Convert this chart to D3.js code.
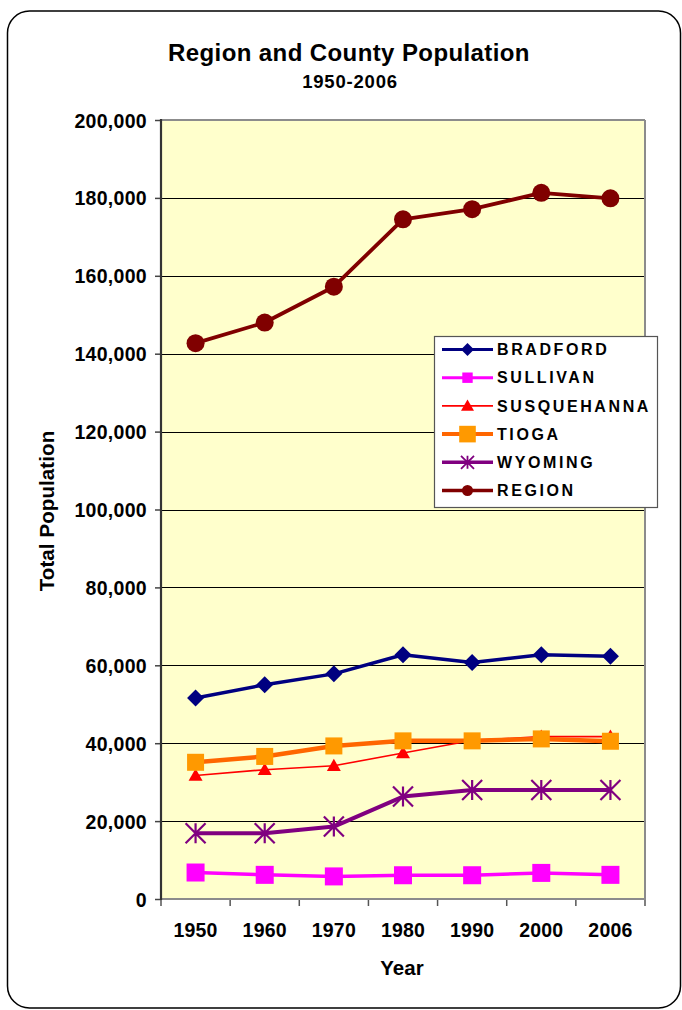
<!DOCTYPE html>
<html><head><meta charset="utf-8">
<script src="https://cdn.jsdelivr.net/npm/d3@7"></script>
<style>
body{margin:0;background:#fff}
text{font-family:"Liberation Sans",Arial,sans-serif;font-weight:bold;fill:#000}
</style>
</head><body>
<svg id="c" width="682" height="1010"></svg>
<script>
// ---- data ----
const years=["1950","1960","1970","1980","1990","2000","2006"];
const seriesNames=["BRADFORD","SULLIVAN","SUSQUEHANNA","TIOGA","WYOMING","REGION"];
const bradford=[51600,55000,57800,62700,60700,62700,62300];
const sullivan=[6800,6200,5800,6100,6100,6700,6200];
const susquehanna=[31700,33200,34200,37500,40700,41700,41700];
const tioga=[35100,36600,39300,40600,40600,41100,40500];
const wyoming=[16900,16900,18600,26300,28000,28000,28000];
const region=[142700,148000,157200,174500,177100,181300,179900];
const yTicks=[0,20000,40000,60000,80000,100000,120000,140000,160000,180000,200000];
const titleText="Region and County Population";
const subtitleText="1950-2006";
const xTitle="Year";
const yTitle="Total Population";

// ---- styles per series ----
const styles=[
  {line:"#000080",fill:"#000080",lw:3.5,marker:"diamond",ms:8.5,lms:6.5,llw:3},
  {line:"#FF00FF",fill:"#FF00FF",lw:3.5,marker:"square",ms:9,lms:5.2,llw:3},
  {line:"#FF0000",fill:"#FF0000",lw:1.6,marker:"triangle",ms:7,lms:6.5,llw:1.6},
  {line:"#FF6600",fill:"#FF9900",lw:4.5,marker:"square",ms:8.5,lms:8.3,llw:4},
  {line:"#800080",fill:"#800080",lw:4,marker:"star",ms:10,lms:6.5,llw:3.5},
  {line:"#800000",fill:"#800000",lw:3.8,marker:"circle",ms:9,lms:5.5,llw:3.5}
];
const allSeries=[bradford,sullivan,susquehanna,tioga,wyoming,region];

const svg=d3.select("#c");
const L=161,R=645,T=120,B=899;

// outer frame
svg.append("rect").attr("x",7.5).attr("y",11).attr("width",673).attr("height",997)
  .attr("rx",22).attr("ry",22).attr("fill","#fff").attr("stroke","#000").attr("stroke-width",1.5);

const x=d3.scaleBand().domain(years).range([L,R]);
const y=d3.scaleLinear().domain([0,200000]).range([B,T]);

// plot area
svg.append("rect").attr("x",L).attr("y",T).attr("width",R-L).attr("height",B-T).attr("fill","#FFFFCC");

// gridlines
svg.append("g").selectAll("line").data(yTicks.filter(d=>d>0&&d<200000)).join("line")
  .attr("x1",L).attr("x2",R).attr("y1",d=>Math.round(y(d))+0.5).attr("y2",d=>Math.round(y(d))+0.5)
  .attr("stroke","#000").attr("stroke-width",1);

// plot border top/right
svg.append("line").attr("x1",L).attr("x2",R).attr("y1",T).attr("y2",T).attr("stroke","#8c8c8c").attr("stroke-width",2);
svg.append("line").attr("x1",R).attr("x2",R).attr("y1",T).attr("y2",B).attr("stroke","#8c8c8c").attr("stroke-width",2);

// y axis
const yAxis=d3.axisLeft(y).tickValues(yTicks).tickFormat(d3.format(",")).tickSize(6).tickPadding(8);
const gy=svg.append("g").attr("transform",`translate(${L},0)`).call(yAxis);
gy.select(".domain").remove();
gy.selectAll(".tick line").attr("stroke","#444").attr("stroke-width",1.5);
gy.selectAll(".tick text").style("font-size","19.5px").style("letter-spacing","0.3px").attr("dy","0.36em");
gy.attr("font-family",null).attr("font-size",null);

// x axis (labels at band centers)
const xAxis=d3.axisBottom(x).tickSize(0).tickPadding(24);
const gx=svg.append("g").attr("transform",`translate(0,${B})`).call(xAxis);
gx.select(".domain").remove();
gx.selectAll(".tick text").style("font-size","19.5px").style("letter-spacing","0.2px");
gx.attr("font-family",null).attr("font-size",null);
// boundary ticks
const bounds=years.map(d=>x(d)).concat([x.range()[1]]);
svg.append("g").selectAll("line").data(bounds).join("line")
  .attr("x1",d=>d).attr("x2",d=>d).attr("y1",B).attr("y2",B+7)
  .attr("stroke","#555").attr("stroke-width",1.5);

// axis lines
svg.append("line").attr("x1",L).attr("x2",R+1).attr("y1",B).attr("y2",B).attr("stroke","#8c8c8c").attr("stroke-width",2);
svg.append("line").attr("x1",L).attr("x2",L).attr("y1",T-1).attr("y2",B+1).attr("stroke","#333").attr("stroke-width",2.2);

// marker drawer
function drawMarker(g,type,cx,cy,s,fill){
  if(type==="diamond"){
    g.append("path").attr("d",`M${cx},${cy-s}L${cx+s},${cy}L${cx},${cy+s}L${cx-s},${cy}Z`).attr("fill",fill);
  }else if(type==="square"){
    g.append("rect").attr("x",cx-s).attr("y",cy-s).attr("width",2*s).attr("height",2*s).attr("fill",fill);
  }else if(type==="triangle"){
    g.append("path").attr("d",`M${cx},${cy-s}L${cx+s},${cy+s*0.75}L${cx-s},${cy+s*0.75}Z`).attr("fill",fill);
  }else if(type==="circle"){
    g.append("circle").attr("cx",cx).attr("cy",cy).attr("r",s).attr("fill",fill);
  }else if(type==="star"){
    const d=`M${cx-s},${cy-s}L${cx+s},${cy+s}M${cx+s},${cy-s}L${cx-s},${cy+s}M${cx},${cy-s}L${cx},${cy+s}`;
    g.append("path").attr("d",d).attr("stroke",fill).attr("stroke-width",s>8?2.2:1.8).attr("fill","none");
  }
}

// series
const line=d3.line().x((d,i)=>x(years[i])+x.bandwidth()/2).y(d=>y(d));
allSeries.forEach((vals,si)=>{
  const st=styles[si];
  const g=svg.append("g");
  g.append("path").datum(vals).attr("d",line).attr("fill","none")
    .attr("stroke",st.line).attr("stroke-width",st.lw).attr("stroke-linejoin","round");
  vals.forEach((v,i)=>drawMarker(g,st.marker,x(years[i])+x.bandwidth()/2,y(v),st.ms,st.fill));
});

// legend
const lg=svg.append("g");
lg.append("rect").attr("x",434.5).attr("y",336.5).attr("width",223).attr("height",171)
  .attr("fill","#fff").attr("stroke","#555").attr("stroke-width",1.2);
seriesNames.forEach((name,i)=>{
  const st=styles[i];
  const cy=349.5+i*28.2;
  lg.append("line").attr("x1",442).attr("x2",493).attr("y1",cy).attr("y2",cy)
    .attr("stroke",st.line).attr("stroke-width",st.llw);
  drawMarker(lg,st.marker,467.5,cy,st.lms,st.fill);
  lg.append("text").attr("x",497).attr("y",cy).attr("dy","0.36em")
    .style("font-size","16px").style("letter-spacing","2.6px").text(name);
});

// titles
svg.append("text").attr("x",349).attr("y",61).attr("text-anchor","middle")
  .style("font-size","24px").style("letter-spacing","0.4px").text(titleText);
svg.append("text").attr("x",350).attr("y",88).attr("text-anchor","middle")
  .style("font-size","18.5px").style("letter-spacing","0.8px").text(subtitleText);
svg.append("text").attr("x",402).attr("y",975).attr("text-anchor","middle")
  .style("font-size","20.5px").text(xTitle);
svg.append("text").attr("transform","translate(54,511) rotate(-90)").attr("text-anchor","middle")
  .style("font-size","20.5px").style("letter-spacing","0.1px").text(yTitle);
</script>
</body></html>
